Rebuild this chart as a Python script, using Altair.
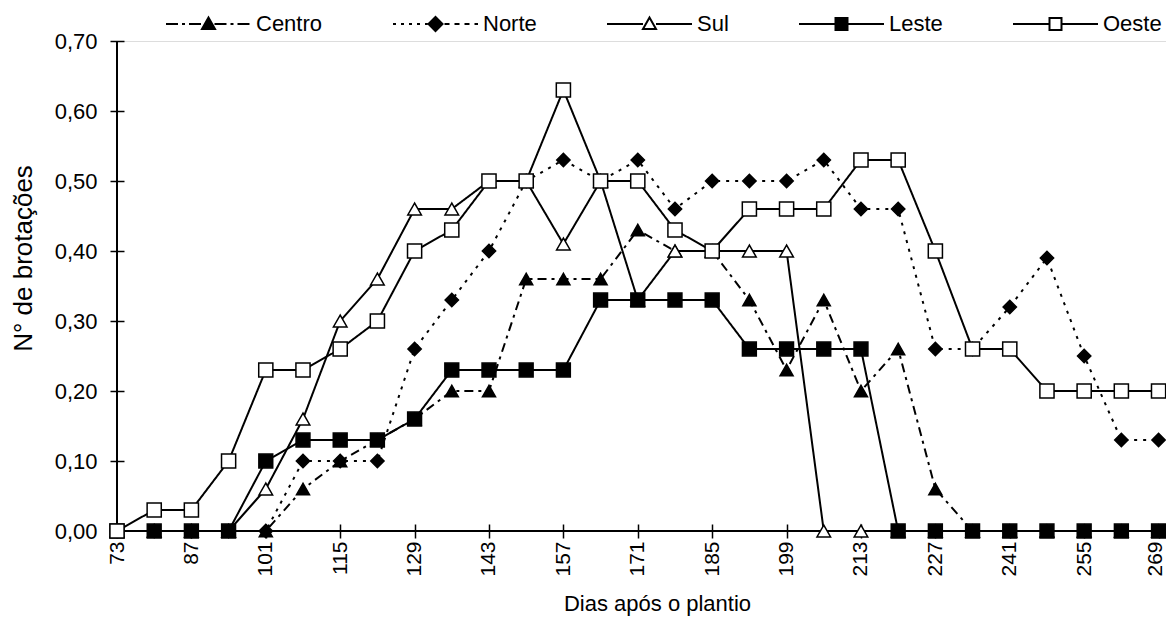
import math
import altair as alt
import pandas as pd

# ---------------- data ----------------
dias = [73, 80, 87, 94, 101, 108, 115, 122, 129, 136, 143, 150, 157, 164, 171,
        178, 185, 192, 199, 206, 213, 220, 227, 234, 241, 248, 255, 262, 269]

centro = [0, 0, 0, 0, 0, 0.06, 0.10, 0.13, 0.16, 0.20, 0.20, 0.36, 0.36, 0.36, 0.43,
          0.40, 0.40, 0.33, 0.23, 0.33, 0.20, 0.26, 0.06, 0, 0, 0, 0, 0, 0]
norte = [0, 0, 0, 0, 0, 0.10, 0.10, 0.10, 0.26, 0.33, 0.40, 0.50, 0.53, 0.50, 0.53,
         0.46, 0.50, 0.50, 0.50, 0.53, 0.46, 0.46, 0.26, 0.26, 0.32, 0.39, 0.25, 0.13, 0.13]
sul = [0, 0, 0, 0, 0.06, 0.16, 0.30, 0.36, 0.46, 0.46, 0.50, 0.50, 0.41, 0.50, 0.33,
       0.40, 0.40, 0.40, 0.40, 0, 0, 0, 0, 0, 0, 0, 0, 0, 0]
leste = [0, 0, 0, 0, 0.10, 0.13, 0.13, 0.13, 0.16, 0.23, 0.23, 0.23, 0.23, 0.33, 0.33,
         0.33, 0.33, 0.26, 0.26, 0.26, 0.26, 0, 0, 0, 0, 0, 0, 0, 0]
oeste = [0, 0.03, 0.03, 0.10, 0.23, 0.23, 0.26, 0.30, 0.40, 0.43, 0.50, 0.50, 0.63, 0.50, 0.50,
         0.43, 0.40, 0.46, 0.46, 0.46, 0.53, 0.53, 0.40, 0.26, 0.26, 0.20, 0.20, 0.20, 0.20]

# the lines run on past the right edge of the picture (next reading at 276 days)
dia_borda = 276
borda = [0, 0.13, 0, 0, 0.20]

series = ["Centro", "Norte", "Sul", "Leste", "Oeste"]
valores = [centro, norte, sul, leste, oeste]

y_ticks = [0.0, 0.1, 0.2, 0.3, 0.4, 0.5, 0.6, 0.7]
x_min, x_max = 73, 270.4

# ---------------- tables ----------------
rows = []
for s, vals in zip(series, valores):
    for d, v in zip(dias, vals):
        rows.append({"serie": s, "dia": d, "valor": v})
df = pd.DataFrame(rows)
df_linha = pd.concat(
    [df, pd.DataFrame({"serie": series, "dia": [dia_borda] * 5, "valor": borda})],
    ignore_index=True)

# ---------------- styles ----------------
FONT = "Liberation Sans"
dash_styles = [[9, 5, 3, 5], [3, 6], [1, 0], [1, 0], [1, 0]]
shapes = ["triangle-up", "diamond", "triangle-up", "square", "square"]
fills = ["black", "black", "white", "black", "white"]
sizes = [170, 200, 170, 150, 150]

# legend glyphs: a line sample with the marker in the middle, as SVG paths
LEG_SIZE = 196
R = math.sqrt(LEG_SIZE) / 2
CX = max(math.ceil(math.sqrt(LEG_SIZE) + 2), 22) / 2
L = 85.0
MID = L / 2


def u(px):
    return (px - CX) / R


def seg(a, b):
    return f"M{u(a):.3f},0L{u(b):.3f},0"


def dashed(a, b, pattern):
    out, x, i = [], a, 0
    while x < b:
        ln = pattern[i % len(pattern)]
        if i % 2 == 0:
            out.append(seg(x, min(x + ln, b)))
        x += ln
        i += 1
    return "".join(out)


def poly(pts):
    return "M" + "L".join(f"{u(px):.3f},{py / R:.3f}" for px, py in pts) + "Z"


tri = poly([(MID, -6.5), (MID - 6.5, 5.0), (MID + 6.5, 5.0)])
dia_g = poly([(MID - 7, 0), (MID, -7), (MID + 7, 0), (MID, 7)])
sq = poly([(MID - 6, -6), (MID + 6, -6), (MID + 6, 6), (MID - 6, 6)])

leg_paths = [
    dashed(0, MID - 7, [12, 4, 3, 4]) + tri + dashed(MID + 6, L, [12, 4, 3, 4]),
    dashed(0, MID - 8, [3, 5]) + dia_g + dashed(MID + 9, L, [5, 5]),
    seg(0, MID - 6.5) + tri + seg(MID + 6.5, L),
    seg(0, MID - 6) + sq + seg(MID + 6, L),
    seg(0, MID - 6) + sq + seg(MID + 6, L),
]

x_scale = alt.Scale(domain=[x_min, x_max], nice=False, zero=False)
y_scale = alt.Scale(domain=[0, 0.7], nice=False, zero=True)

x_axis = alt.Axis(
    values=dias, format="d",
    labelExpr="(datum.value - 73) % 14 == 0 ? datum.label : ''",
    labelAngle=-90, labelAlign="right", labelBaseline="middle",
    labelFont=FONT, labelFontSize=21, labelColor="black", labelPadding=3,
    labelOverlap=False, labelFlush=False,
    labelOffset={"condition": {"test": "datum.value >= 269", "value": -3}, "value": 0},
    tickSize=14, tickWidth=1.5, tickColor="black", offset=-7,
    domain=False, grid=False,
    title="Dias após o plantio", titleFont=FONT, titleFontSize=22,
    titleFontWeight="normal", titleColor="black",
    titleX=540, titleY=86, titleAlign="center", titleBaseline="alphabetic",
)
y_axis = alt.Axis(
    values=y_ticks,
    labelExpr="replace(format(datum.value, '.2f'), '.', ',')",
    labelFont=FONT, labelFontSize=22, labelColor="black", labelPadding=13,
    tickSize=14, tickWidth=1.5, tickColor="black", offset=-7,
    domain=False, grid=False,
    title="N° de brotações", titleFont=FONT, titleFontSize=26,
    titleFontWeight="normal", titleColor="black",
    titleX=-93, titleY=217, titleAlign="center", titleBaseline="alphabetic",
    titleAngle=270,
)

X_T = "Dias após o plantio"
Y_T = "N° de brotações"

eixo_x = alt.Chart(pd.DataFrame({"k": [0]})).mark_rule(color="black", strokeWidth=2).encode(
    x=alt.datum(x_min), x2=alt.datum(x_max), y=alt.datum(0))
eixo_y = alt.Chart(pd.DataFrame({"k": [0]})).mark_rule(color="black", strokeWidth=2).encode(
    x=alt.datum(x_min), y=alt.datum(0), y2=alt.datum(0.7))

linhas = alt.Chart(df_linha).mark_line(color="black", strokeWidth=2).encode(
    x=alt.X("dia:Q", scale=x_scale, axis=x_axis, title=X_T),
    y=alt.Y("valor:Q", scale=y_scale, axis=y_axis, title=Y_T),
    strokeDash=alt.StrokeDash("serie:N", scale=alt.Scale(domain=series, range=dash_styles),
                              legend=None),
)

pontos = alt.Chart(df).mark_point(filled=True, stroke="black", strokeWidth=1.5, opacity=1).encode(
    x=alt.X("dia:Q", scale=x_scale, title=X_T),
    y=alt.Y("valor:Q", scale=y_scale, title=Y_T),
    shape=alt.Shape("serie:N", scale=alt.Scale(domain=series, range=shapes), legend=None),
    fill=alt.Fill("serie:N", scale=alt.Scale(domain=series, range=fills), legend=None),
    size=alt.Size("serie:N", scale=alt.Scale(domain=series, range=sizes), legend=None),
)

legenda = alt.Legend(
    title=None, orient="none", direction="horizontal", legendX=49, legendY=-28,
    padding=0, columnPadding=66, symbolSize=LEG_SIZE, symbolStrokeWidth=2,
    symbolStrokeColor="black", labelFont=FONT, labelFontSize=22, labelColor="black",
    labelOffset=L + 5 - 2 * CX, labelLimit=300,
)

leg_layer = alt.Chart(df).transform_filter("datum.dia < 0").mark_point(
    filled=True, strokeWidth=2, size=LEG_SIZE, opacity=1).encode(
    x=alt.X("dia:Q", scale=x_scale, title=X_T),
    y=alt.Y("valor:Q", scale=y_scale, title=Y_T),
    shape=alt.Shape("serie:N", scale=alt.Scale(domain=series, range=leg_paths), legend=legenda),
    fill=alt.Fill("serie:N", scale=alt.Scale(domain=series, range=fills), legend=legenda),
    stroke=alt.Stroke("serie:N", scale=alt.Scale(domain=series, range=["black"] * 5),
                      legend=legenda),
)

chart = alt.layer(eixo_x, eixo_y, linhas, pontos, leg_layer).resolve_scale(
    shape="independent", fill="independent", stroke="independent"
).properties(
    width=1049, height=490,
    autosize=alt.AutoSizeParams(type="none"),
    padding={"left": 109, "top": 33, "right": 0, "bottom": 85},
    background="white",
).configure_view(stroke=None).configure(font=FONT)

chart.save("out.html", embed_options={"renderer": "svg", "actions": False})
